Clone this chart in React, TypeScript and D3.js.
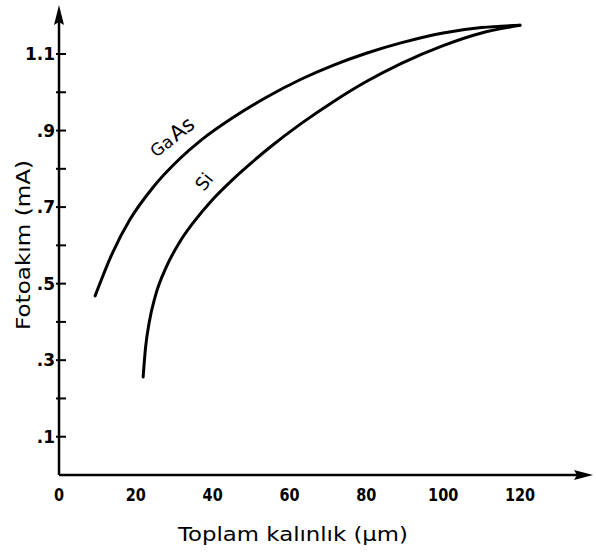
import React from "react";
import * as d3 from "d3";

// Photocurrent versus total thickness for GaAs and Si
const gaasThickness = [9.4, 14, 18.5, 24.5, 31.5, 37, 45, 54, 63, 71.5, 80, 89, 100, 110, 120];
const gaasCurrent = [0.468, 0.582, 0.668, 0.752, 0.827, 0.875, 0.932, 0.987, 1.034, 1.071, 1.102, 1.129, 1.155, 1.169, 1.175];
const siThickness = [21.9, 22.5, 23.5, 25, 28, 31.5, 35, 40, 45, 50, 55, 63, 71.5, 80, 89, 100, 110, 120];
const siCurrent = [0.256, 0.33, 0.4, 0.465, 0.545, 0.61, 0.66, 0.72, 0.77, 0.815, 0.857, 0.918, 0.976, 1.028, 1.075, 1.122, 1.155, 1.175];

const xTickValues = [0, 20, 40, 60, 80, 100, 120];
const yTickValues = [0.1, 0.2, 0.3, 0.4, 0.5, 0.6, 0.7, 0.8, 0.9, 1.0, 1.1];
const yLabelValues = [0.1, 0.3, 0.5, 0.7, 0.9, 1.1];
const yLabelText = [".1", ".3", ".5", ".7", ".9", "1.1"];

const xTitle = "Toplam kalınlık (µm)";
const yTitle = "Fotoakım (mA)";

export default function App() {
  const x = d3.scaleLinear().domain([0, 120]).range([59, 520]);
  const y = d3.scaleLinear().domain([0, 1.1]).range([475, 54]);

  const line = d3
    .line<[number, number]>()
    .x((d) => x(d[0]))
    .y((d) => y(d[1]))
    .curve(d3.curveMonotoneX);

  const gaas = gaasThickness.map((t, i) => [t, gaasCurrent[i]] as [number, number]);
  const si = siThickness.map((t, i) => [t, siCurrent[i]] as [number, number]);

  const x0 = x(0);
  const y0 = y(0);
  const font = "'DejaVu Sans', sans-serif";

  return (
    <svg
      width={596}
      height={555}
      style={{ position: "absolute", left: 0, top: 0, background: "#fff" }}
    >
      {/* axes with arrow heads */}
      <line x1={x0} y1={y0} x2={585} y2={y0} stroke="#000" strokeWidth={2.5} />
      <path d={`M593,${y0} L574,${y0 - 5} L577,${y0} L574,${y0 + 5} Z`} fill="#000" />
      <line x1={x0} y1={y0} x2={x0} y2={14} stroke="#000" strokeWidth={2.5} />
      <path d={`M${x0},5 L${x0 - 5},25 L${x0},22 L${x0 + 5},25 Z`} fill="#000" />

      {/* y ticks */}
      {yTickValues.map((v) => (
        <line key={v} x1={x0 - 3} x2={x0 + 7} y1={y(v)} y2={y(v)} stroke="#000" strokeWidth={2} />
      ))}
      {yLabelValues.map((v, i) => (
        <text
          key={v}
          x={x0 - 4}
          y={y(v) + 6}
          textAnchor="end"
          fontFamily={font}
          fontSize={17}
          fontWeight="bold"
        >
          {yLabelText[i]}
        </text>
      ))}

      {/* x tick labels */}
      {xTickValues.map((v) => (
        <text
          key={v}
          x={x(v)}
          y={501}
          textAnchor="middle"
          fontFamily={font}
          fontSize={17}
          fontWeight="bold"
          transform={`translate(${x(v)},0) scale(0.85,1) translate(${-x(v)},0)`}
        >
          {v}
        </text>
      ))}

      {/* curves */}
      <path d={line(gaas) || ""} fill="none" stroke="#000" strokeWidth={3} strokeLinecap="round" />
      <path d={line(si) || ""} fill="none" stroke="#000" strokeWidth={3} strokeLinecap="round" />

      {/* curve labels */}
      <text transform="translate(156,158) rotate(-38)" fontFamily={font}>
        <tspan fontSize={17}>Ga</tspan>
        <tspan fontSize={21} dx={2}>As</tspan>
      </text>
      <text
        transform="translate(204,192) rotate(-52)"
        fontFamily={font}
        fontSize={18}
      >
        Si
      </text>

      {/* axis titles */}
      <text
        x={293}
        y={541}
        textAnchor="middle"
        fontFamily={font}
        fontSize={19}
        textLength={230}
        lengthAdjust="spacingAndGlyphs"
      >
        {xTitle}
      </text>
      <text
        transform="translate(30,245) rotate(-90)"
        textAnchor="middle"
        fontFamily={font}
        fontSize={19}
        textLength={170}
        lengthAdjust="spacingAndGlyphs"
      >
        {yTitle}
      </text>
    </svg>
  );
}
